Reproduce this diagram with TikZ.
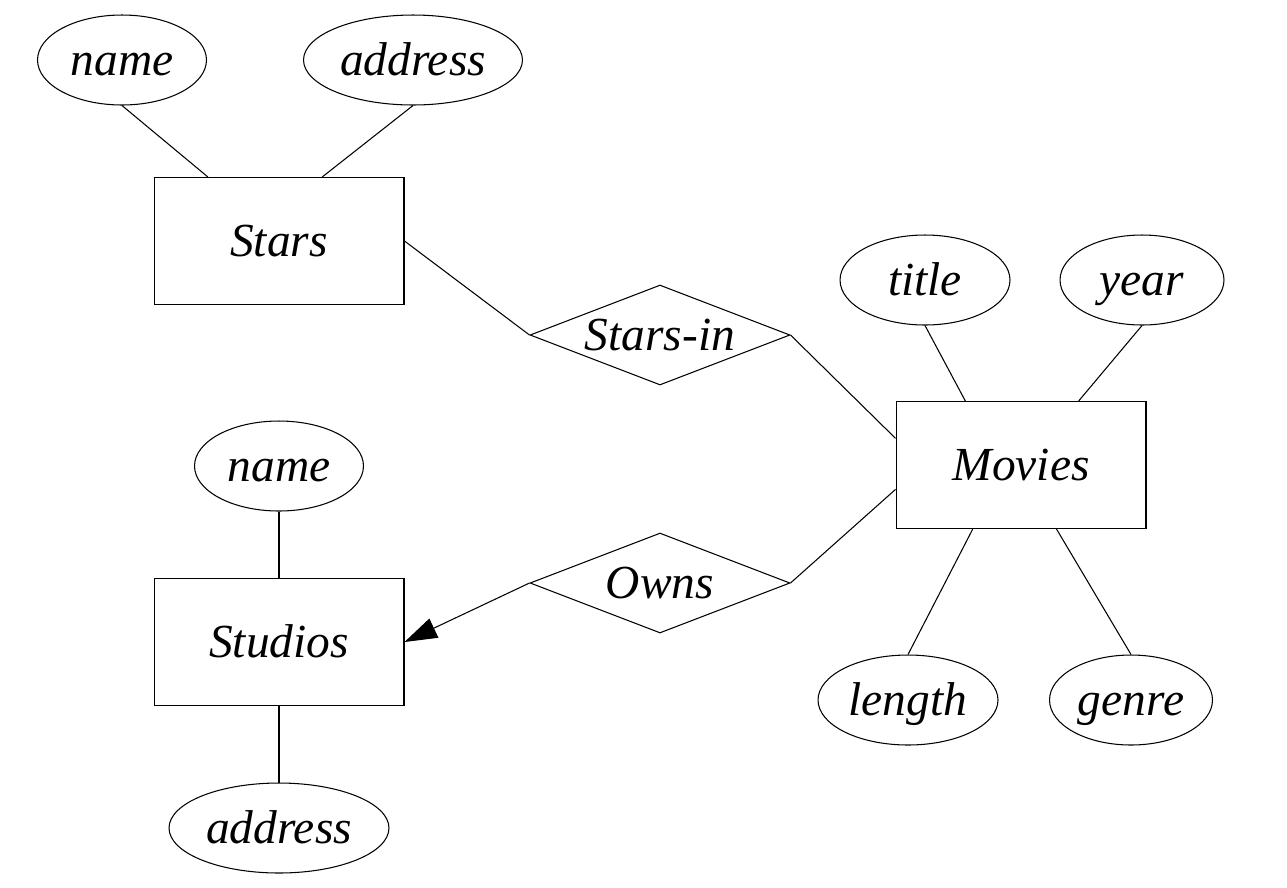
\documentclass[tikz,border=0pt]{standalone}
\usepackage{fontspec}
\setmainfont{Liberation Serif}
\usetikzlibrary{shapes.geometric,arrows.meta}

\begin{document}
\begin{tikzpicture}[x=0.02cm, y=-0.02cm, line width=0.6pt,
    every node/.style={font=\fontsize{27}{31}\selectfont\itshape, inner sep=0pt,
      text height=0.7cm, text depth=0.1cm},
    entity/.style={draw, rectangle, minimum width=5cm, minimum height=2.54cm},
    attr/.style={draw, ellipse, minimum height=1.8cm},
    rel/.style={draw, diamond, aspect=2.6, minimum width=5.2cm, minimum height=2cm}]
     \useasboundingbox (0,0) rectangle (1287,887);

     % entity sets
     \node[entity] (stars) at (279,241) {Stars};
     \node[entity] (movies) at (1021,465) {Movies};
     \node[entity] (studios) at (279,642) {Studios};

     % relationships
     \node[rel] (starsin) at (660,335) {Stars-in};
     \node[rel] (owns) at (660,583) {Owns};

     % attributes
     \node[attr, minimum width=3.38cm] (sname) at (122,60) {name};
     \node[attr, minimum width=4.38cm] (saddr) at (413,60) {address};
     \node[attr, minimum width=3.4cm] (title) at (925,280) {title};
     \node[attr, minimum width=3.28cm] (year) at (1142,280) {year};
     \node[attr, minimum width=3.6cm] (length) at (908,700) {length};
     \node[attr, minimum width=3.26cm] (genre) at (1131,700) {genre};
     \node[attr, minimum width=3.38cm] (stname) at (279,466) {name};
     \node[attr, minimum width=4.4cm] (staddr) at (279,828) {address};

     \draw (sname.south) -- (stars.138.8);
     \draw (saddr.south) -- (stars.56.9);
     \draw (stars.east) -- (starsin.west);
     \draw (starsin.east) -- (movies.168.6);
     \draw (title.south) -- (movies.131.2);
     \draw (year.south) -- (movies.48.3);
     \draw (movies.233.9) -- (length.north);
     \draw (movies.299.1) -- (genre.north);
     \draw (movies.191.4) -- (owns.east);
     \draw[-{Triangle[length=0.65cm, width=0.42cm]}] (owns.west) -- (studios.east);
     \draw (stname.south) -- (studios.north);
     \draw (studios.south) -- (staddr.north);
    \end{tikzpicture}
\end{document}
